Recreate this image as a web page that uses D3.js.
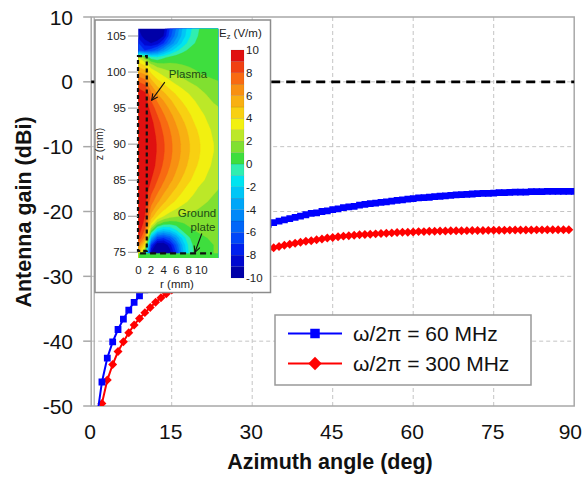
<!DOCTYPE html>
<html><head><meta charset="utf-8">
<script src="https://cdn.jsdelivr.net/npm/d3@7"></script>
<style>
body{margin:0;background:#fff}
svg{display:block;font-family:"Liberation Sans",Arial,Helvetica,sans-serif}
</style>
</head><body>
<svg id="chart" width="582" height="477"></svg>
<script>
// ---------------- data ----------------
const xTicks = [0, 15, 30, 45, 60, 75, 90];
const yTicks = [10, 0, -10, -20, -30, -40, -50];
const xGrid = [15, 30, 45, 60, 75];
const yGrid = [0, -10, -20, -30, -40];
const refLine = 0;

const seriesNames = ["ω/2π = 60 MHz", "ω/2π = 300 MHz"];

const blueAngles = d3.range(1, 91);
const blueGain = [
 -52.1,-46.3,-42.6,-40.1,-38.2,-36.6,-35.2,-34.0,-33.0,-32.1,
 -31.3,-30.5,-29.8,-29.2,-28.6,-28.0,-27.5,-27.0,-26.6,-26.1,
 -25.7,-25.3,-25.0,-24.6,-24.3,-23.9,-23.6,-23.3,-23.0,-22.7,
 -22.5,-22.2,-22.0,-21.7,-21.5,-21.3,-21.1,-20.9,-20.7,-20.5,
 -20.3,-20.2,-20.0,-19.9,-19.7,-19.6,-19.4,-19.3,-19.2,-19.0,
 -18.9,-18.8,-18.7,-18.6,-18.5,-18.4,-18.3,-18.2,-18.1,-18.0,
 -17.9,-17.85,-17.8,-17.7,-17.65,-17.6,-17.5,-17.45,-17.4,-17.35,
 -17.3,-17.25,-17.2,-17.2,-17.15,-17.1,-17.1,-17.05,-17.0,-17.0,
 -17.0,-16.95,-16.95,-16.95,-16.9,-16.9,-16.9,-16.9,-16.9,-16.9
];

const redAngles = d3.range(2, 91);
const redGain = [
 -49.6,-46.0,-43.6,-41.6,-40.1,-38.7,-37.5,-36.5,-35.6,
 -34.8,-34.0,-33.3,-32.7,-32.1,-31.5,-31.0,-30.5,-30.0,-29.6,
 -29.2,-28.9,-28.5,-28.2,-27.9,-27.6,-27.3,-27.0,-26.75,-26.5,
 -26.25,-26.0,-25.8,-25.6,-25.4,-25.2,-25.05,-24.9,-24.75,-24.6,
 -24.5,-24.35,-24.25,-24.1,-24.0,-23.9,-23.8,-23.75,-23.65,-23.6,
 -23.55,-23.5,-23.45,-23.4,-23.35,-23.3,-23.25,-23.2,-23.2,-23.15,
 -23.1,-23.1,-23.05,-23.05,-23.0,-23.0,-22.98,-22.97,-22.96,-22.95,
 -22.94,-22.93,-22.92,-22.91,-22.9,-22.89,-22.88,-22.87,-22.86,-22.85,
 -22.84,-22.84,-22.83,-22.83,-22.82,-22.82,-22.81,-22.8,-22.8
];

// inset: Ez field (V/m) read on a grid, r = 0..13 mm (columns), z = 106..74 mm (rows)
const fieldR = [0,1,2,3,4,5,6,7,8,9,10,11,12,13];
const fieldZ = [106,105,104,103,102,101,100,99,98,97,96,95,94,93,92,91,90,89,88,87,86,85,84,83,82,81,80,79,78,77,76,75,74];
const fieldEz = [
 [-9,-10,-10.5,-10.5,-9.5,-7,-5,-3,-1.5,-0.5,0.2,0.5,0.5,0.5],
 [-8.5,-9.5,-10,-10,-9,-6.5,-4.5,-2.7,-1.3,-0.3,0.3,0.5,0.5,0.5],
 [-7,-8.5,-9,-8.5,-7,-5,-3.3,-1.8,-0.7,0,0.4,0.5,0.5,0.5],
 [-6,-7,-6.5,-5.5,-4,-2.5,-1.3,-0.4,0.2,0.5,0.6,0.6,0.5,0.5],
 [3,1.5,-0.5,-0.8,-0.2,0.4,0.6,0.8,0.8,0.8,0.7,0.6,0.5,0.5],
 [4.5,3.8,2.2,1.5,1.3,1.2,1.1,1.0,0.9,0.8,0.7,0.6,0.5,0.5],
 [6,5.5,3.8,3.0,2.5,2.1,1.8,1.5,1.3,1.1,0.9,0.8,0.7,0.6],
 [7.5,7,5,4,3.4,2.9,2.5,2.1,1.8,1.5,1.3,1.1,1.0,0.9],
 [8.8,8.3,6.2,5.0,4.3,3.7,3.2,2.8,2.4,2.1,1.8,1.5,1.3,1.2],
 [9.5,9.2,7.2,6.0,5.2,4.5,3.9,3.4,3.0,2.6,2.2,1.9,1.7,1.5],
 [9.8,9.6,8.0,6.9,6.0,5.2,4.5,3.9,3.4,3.0,2.6,2.2,1.9,1.7],
 [10,9.8,8.6,7.5,6.6,5.8,5.0,4.4,3.8,3.3,2.9,2.5,2.2,2.0],
 [10,10,9.0,8.0,7.1,6.3,5.5,4.8,4.2,3.6,3.2,2.8,2.4,2.2],
 [10,10,9.3,8.4,7.5,6.7,5.9,5.2,4.5,3.9,3.4,3.0,2.6,2.4],
 [10,10,9.5,8.6,7.8,7.0,6.2,5.5,4.8,4.2,3.6,3.2,2.8,2.5],
 [10,10,9.6,8.8,8.0,7.2,6.4,5.7,5.0,4.4,3.8,3.3,2.9,2.6],
 [10,10,9.6,8.9,8.1,7.3,6.5,5.8,5.1,4.5,3.9,3.4,3.0,2.7],
 [10,10,9.6,8.9,8.1,7.3,6.5,5.8,5.1,4.5,3.9,3.4,3.0,2.7],
 [10,10,9.6,8.8,8.0,7.2,6.4,5.7,5.0,4.4,3.8,3.3,2.9,2.6],
 [10,10,9.5,8.7,7.8,7.0,6.2,5.5,4.8,4.2,3.6,3.2,2.8,2.5],
 [10,10,9.3,8.4,7.5,6.7,5.9,5.2,4.5,3.9,3.4,3.0,2.6,2.4],
 [10,10,9.0,8.0,7.1,6.3,5.5,4.8,4.2,3.6,3.2,2.8,2.4,2.2],
 [10,9.8,8.6,7.5,6.6,5.7,5.0,4.3,3.7,3.2,2.8,2.5,2.2,2.0],
 [10,9.6,8.0,6.9,5.9,5.1,4.4,3.8,3.3,2.9,2.5,2.2,2.0,1.8],
 [10,9.4,7.4,6.2,5.2,4.4,3.8,3.3,2.9,2.5,2.2,2.0,1.8,1.6],
 [10,9.2,6.6,5.2,4.2,3.5,3.0,2.6,2.3,2.1,1.9,1.7,1.6,1.5],
 [10,9.0,5.6,4.0,3.0,2.4,2.1,1.9,1.8,1.7,1.6,1.5,1.4,1.4],
 [10,8.6,4,1.5,0.5,0.3,0.5,0.9,1.2,1.3,1.3,1.3,1.3,1.3],
 [9.6,7.8,1.0,-2,-2.8,-2.3,-1.2,0,0.7,1.0,1.1,1.1,1.2,1.2],
 [9,6.5,-3,-6.5,-7,-6,-4,-1.8,-0.2,0.6,0.9,1.0,1.1,1.1],
 [7,4,-7,-10,-10,-8.5,-6,-3,-0.8,0.4,0.8,0.9,1.0,1.0],
 [5,1,-9,-11,-11,-9.5,-7,-3.5,-1,0.3,0.8,0.9,1.0,1.0],
 [4,0.5,-9,-11,-11,-9.5,-7,-3.5,-1,0.3,0.8,0.9,1.0,1.0]
];
const levelLows = [-10,-9,-8,-7,-6,-5,-4,-3,-2,-1,0,1,2,3,4,5,6,7,8,9];
const levelColors = ["#0000a8","#0008d0","#0020ee","#0046f8","#0066f8","#0088f8","#00a6f8","#00c6f6","#00e4f0","#30eeb0",
                     "#3ede3e","#80e030","#bce828","#f2f010","#f8d012","#f8b012","#f89012","#f86a12","#f04012","#e01010"];
const zTicks = [75,80,85,90,95,100,105];
const rTicks = [0,2,4,6,8,10];
const cbTicks = [10,8,6,4,2,0,-2,-4,-6,-8,-10];
const rDomain = [0, 12.7], zDomain = [74.2, 106];
const plasma = {r0: 0, r1: 1.4, z0: 75.2, z1: 102.2};
const ground = {z: 74.86, r0: 0.25, r1: 11.7};

// ---------------- drawing ----------------
const svg = d3.select("#chart");
const x = d3.scaleLinear().domain([0, 90]).range([91.2, 574.2]);
const y = d3.scaleLinear().domain([-50, 10]).range([406, 17]);
const gridCol = "#c4c4c4", frameCol = "#a8a8a8";
const FS = 21;

svg.append("defs").append("clipPath").attr("id","plotclip")
  .append("rect").attr("x", x(0)).attr("y", y(10)).attr("width", x(90)-x(0)).attr("height", y(-50)-y(10));

// grid
svg.append("g").selectAll("line").data(xGrid).join("line")
  .attr("x1", d=>x(d)).attr("x2", d=>x(d)).attr("y1", y(10)).attr("y2", y(-50))
  .attr("stroke", gridCol).attr("stroke-width", 1).attr("stroke-dasharray","4,3");
svg.append("g").selectAll("line").data(yGrid).join("line")
  .attr("x1", x(0)).attr("x2", x(90)).attr("y1", d=>y(d)).attr("y2", d=>y(d))
  .attr("stroke", gridCol).attr("stroke-width", 1).attr("stroke-dasharray","4,3");

// frame
svg.append("rect").attr("x", x(0)).attr("y", y(10)).attr("width", x(90)-x(0)).attr("height", y(-50)-y(10))
  .attr("fill","none").attr("stroke", frameCol).attr("stroke-width", 1.5);
svg.append("line").attr("x1", x(0)+3).attr("x2", x(0)+3).attr("y1", y(10)).attr("y2", y(-50))
  .attr("stroke", frameCol).attr("stroke-width", 1.2);
// y ticks
svg.append("g").selectAll("line").data(yTicks).join("line")
  .attr("x1", x(0)-8).attr("x2", x(0)).attr("y1", d=>y(d)).attr("y2", d=>y(d))
  .attr("stroke", frameCol).attr("stroke-width", 1.5);

// reference dashed line
svg.append("line").attr("x1", x(0)).attr("x2", x(90)).attr("y1", y(refLine)).attr("y2", y(refLine))
  .attr("stroke", "#000").attr("stroke-width", 2.6).attr("stroke-dasharray", "9,6");

// series
const plot = svg.append("g").attr("clip-path","url(#plotclip)");
function drawSeries(angles, vals, color, shape, size, rot) {
  const pts = angles.map((a,i)=>[a, vals[i]]);
  plot.append("path").datum(pts)
    .attr("d", d3.line().x(d=>x(d[0])).y(d=>y(d[1])))
    .attr("fill","none").attr("stroke", color).attr("stroke-width", 2);
  plot.append("g").selectAll("path").data(pts).join("path")
    .attr("d", d3.symbol().type(shape).size(size))
    .attr("transform", d=>`translate(${x(d[0])},${y(d[1])}) rotate(${rot})`)
    .attr("fill", color);
}
drawSeries(redAngles, redGain, "#ff0000", d3.symbolSquare, 40, 45);
drawSeries(blueAngles, blueGain, "#0000ff", d3.symbolSquare, 46, 0);

// tick labels
svg.append("g").selectAll("text").data(yTicks).join("text")
  .attr("x", 73).attr("y", d=>y(d)).attr("dy","0.36em").attr("text-anchor","end")
  .attr("font-size", FS).attr("fill","#111").text(d=>d);
svg.append("g").selectAll("text").data(xTicks).join("text")
  .attr("x", d=> d === 90 ? 582 : x(d)-1).attr("y", 439)
  .attr("text-anchor", d=> d === 90 ? "end" : "middle")
  .attr("font-size", FS).attr("fill","#111").text(d=>d);
svg.append("text").attr("x", 330).attr("y", 469).attr("text-anchor","middle")
  .attr("font-size", 21.5).attr("font-weight","bold").attr("fill","#111").text("Azimuth angle (deg)");
svg.append("text").attr("transform","translate(31,212) rotate(-90)").attr("text-anchor","middle")
  .attr("font-size", 21.5).attr("font-weight","bold").attr("fill","#111").text("Antenna gain (dBi)");

// ---------------- inset ----------------
const IFS = 11.5;
const inset = svg.append("g");
inset.append("rect").attr("x", 95).attr("y", 20).attr("width", 175.5).attr("height", 272.5)
  .attr("fill","#fff").attr("stroke","#8c8c8c").attr("stroke-width",1.5);

const rS = d3.scaleLinear().domain([0,10]).range([138.5, 201.2]);
const zS = d3.scaleLinear().domain([75,105]).range([252.3, 36]);

const defs = svg.select("defs");
defs.append("clipPath").attr("id","heatclip").append("rect")
  .attr("x", rS(rDomain[0])).attr("y", zS(zDomain[1]))
  .attr("width", rS(rDomain[1]) - rS(rDomain[0])).attr("height", zS(zDomain[0]) - zS(zDomain[1]));

const nx = fieldR.length, ny = fieldZ.length;
const values = fieldEz.flat();
const thresholds = levelLows.map((v,i)=> i===0 ? -1e9 : v);
const contours = d3.contours().size([nx, ny]).thresholds(thresholds)(values);
const dr = fieldR[1]-fieldR[0], dz = fieldZ[1]-fieldZ[0];
const proj = d3.geoTransform({point(px, py){
  this.stream.point(rS(fieldR[0] + (px-0.5)*dr), zS(fieldZ[0] + (py-0.5)*dz));
}});
const gp = d3.geoPath(proj);
const heat = inset.append("g").attr("clip-path","url(#heatclip)");
heat.selectAll("path").data(contours).join("path")
  .attr("d", gp).attr("fill", (d,i)=>levelColors[i]).attr("stroke", (d,i)=>levelColors[i]).attr("stroke-width",0.3);
heat.append("rect").attr("x", rS(rDomain[0])).attr("y", zS(ground.z))
  .attr("width", rS(rDomain[1]) - rS(rDomain[0])).attr("height", zS(zDomain[0]) - zS(ground.z))
  .attr("fill", levelColors[10]);

// plasma & ground plate outlines
inset.append("rect").attr("x", rS(plasma.r0)-0.5).attr("y", zS(plasma.z1))
  .attr("width", rS(plasma.r1)-rS(plasma.r0)).attr("height", zS(plasma.z0)-zS(plasma.z1))
  .attr("fill","none").attr("stroke","#111").attr("stroke-width",2.2).attr("stroke-dasharray","4,3");
inset.append("line").attr("x1", rS(ground.r0)).attr("x2", rS(ground.r1)).attr("y1", zS(ground.z)).attr("y2", zS(ground.z))
  .attr("stroke","#111").attr("stroke-width",2.2).attr("stroke-dasharray","6,4");

// z axis
inset.append("g").selectAll("line").data(zTicks).join("line")
  .attr("x1", 128).attr("x2", rS(0)-0.5).attr("y1", d=>zS(d)).attr("y2", d=>zS(d))
  .attr("stroke","#999").attr("stroke-width",1);
inset.append("g").selectAll("text").data(zTicks).join("text")
  .attr("x", 126).attr("y", d=>zS(d)).attr("dy","0.35em").attr("text-anchor","end")
  .attr("font-size", IFS).attr("fill","#222").text(d=>d);
inset.append("text").attr("transform","translate(103,144) rotate(-90)").attr("text-anchor","middle")
  .attr("font-size", 10.5).attr("fill","#222").text("z (mm)");
// r axis
inset.append("g").selectAll("text").data(rTicks).join("text")
  .attr("x", d=>rS(d)).attr("y", 274).attr("text-anchor","middle")
  .attr("font-size", IFS).attr("fill","#222").text(d=>d);
inset.append("text").attr("x", 177).attr("y", 287.5).attr("text-anchor","middle")
  .attr("font-size", IFS).attr("fill","#222").text("r (mm)");

// annotations
defs.append("marker").attr("id","arrow").attr("viewBox","0 0 10 10").attr("refX",9).attr("refY",5)
  .attr("markerWidth",7).attr("markerHeight",7).attr("orient","auto")
  .append("path").attr("d","M1,1 L9,5 L1,9").attr("fill","none").attr("stroke","#111").attr("stroke-width",1.4);
inset.append("text").attr("x", 188).attr("y", 78).attr("text-anchor","middle")
  .attr("font-size", IFS).attr("fill","#1d4a14").text("Plasma");
inset.append("line").attr("x1", rS(4.2)).attr("y1", zS(98.6)).attr("x2", rS(2.1)).attr("y2", zS(96.1))
  .attr("stroke","#111").attr("stroke-width",1.1).attr("marker-end","url(#arrow)");
inset.append("text").attr("x", 197).attr("y", 216.5).attr("text-anchor","middle")
  .attr("font-size", IFS).attr("fill","#1d4a14").text("Ground");
inset.append("text").attr("x", 203).attr("y", 230.5).attr("text-anchor","middle")
  .attr("font-size", IFS).attr("fill","#1d4a14").text("plate");
inset.append("line").attr("x1", rS(10.1)).attr("y1", zS(77.6)).attr("x2", rS(9.0)).attr("y2", zS(75.0))
  .attr("stroke","#111").attr("stroke-width",1.1).attr("marker-end","url(#arrow)");

// colorbar
const cb = d3.scaleLinear().domain([-10,10]).range([278, 50]);
inset.append("g").selectAll("rect").data(levelLows).join("rect")
  .attr("x", 231).attr("width", 13).attr("y", d=>cb(d+1)).attr("height", d=>cb(d)-cb(d+1))
  .attr("fill", (d,i)=>levelColors[i]).attr("stroke","rgba(0,0,0,0.18)").attr("stroke-width",0.4);
inset.append("g").selectAll("text").data(cbTicks).join("text")
  .attr("x", 246).attr("y", d=>cb(d)).attr("dy","0.35em")
  .attr("font-size", IFS).attr("fill","#222").text(d=>d);
const et = inset.append("text").attr("x", 219).attr("y", 37).attr("font-size", IFS).attr("fill","#222");
et.append("tspan").text("E");
et.append("tspan").attr("font-size", 7.5).attr("dy", 2).text("z");
et.append("tspan").attr("dy", -2).text(" (V/m)");

// ---------------- legend ----------------
const lg = svg.append("g");
lg.append("rect").attr("x", 275).attr("y", 315).attr("width", 256).attr("height", 70)
  .attr("fill","#fff").attr("stroke","#999").attr("stroke-width",1.5);
const legendItems = [
  {name: seriesNames[0], color:"#0000ff", rot:0, size:90, y:333.5},
  {name: seriesNames[1], color:"#ff0000", rot:45, size:90, y:363.5}
];
legendItems.forEach(it=>{
  lg.append("line").attr("x1", 288).attr("x2", 342).attr("y1", it.y).attr("y2", it.y)
    .attr("stroke", it.color).attr("stroke-width", 2);
  lg.append("path").attr("d", d3.symbol().type(d3.symbolSquare).size(it.size)())
    .attr("transform", `translate(315,${it.y}) rotate(${it.rot})`).attr("fill", it.color);
  lg.append("text").attr("x", 353).attr("y", it.y).attr("dy","0.36em")
    .attr("font-size", FS).attr("fill","#111").text(it.name);
});
</script>
</body></html>
